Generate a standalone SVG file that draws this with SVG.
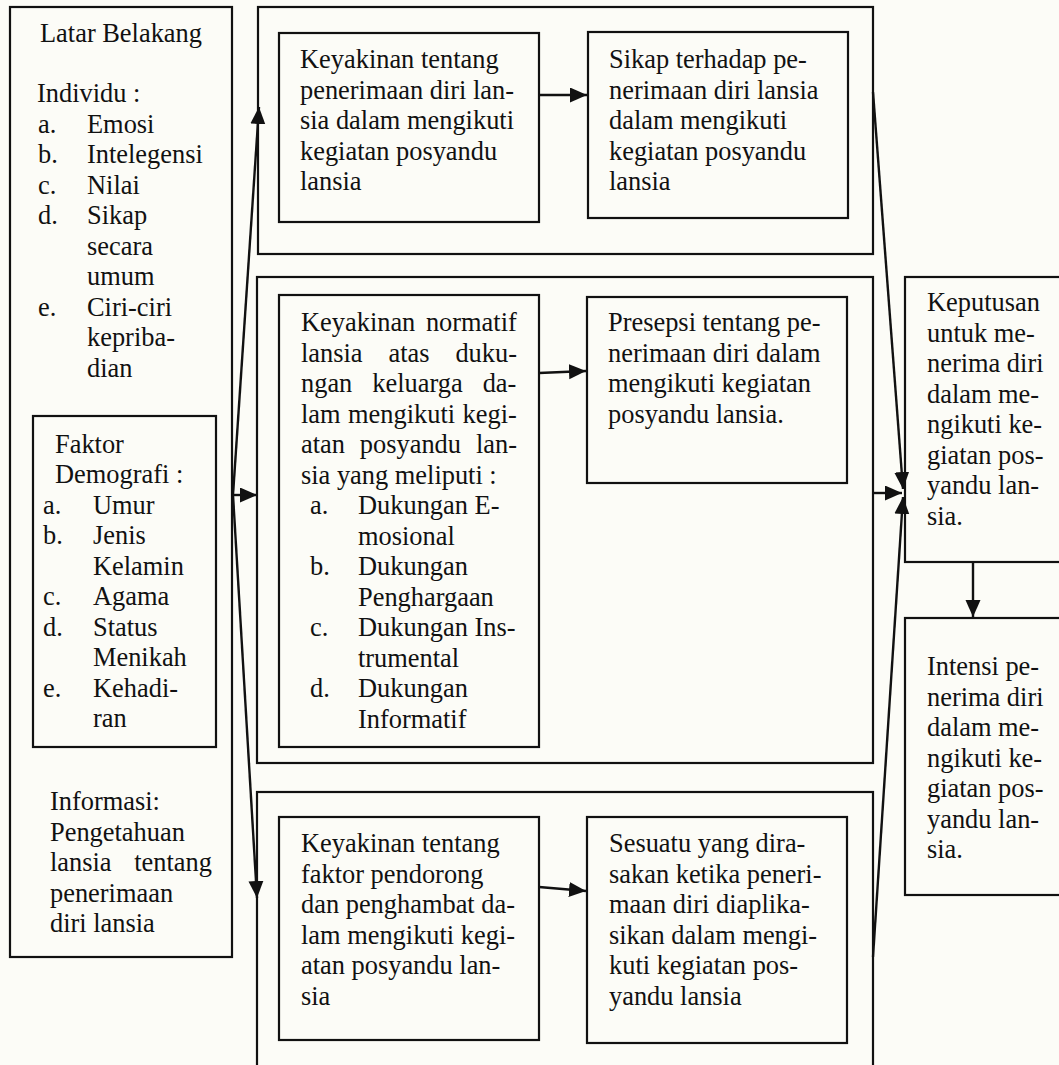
<svg xmlns="http://www.w3.org/2000/svg" width="1059" height="1065" viewBox="0 0 1059 1065">
<style>
.box{fill:none;stroke:#111;stroke-width:2.2}
.t{font-family:"Liberation Serif","Times New Roman",serif;font-size:26.4px;fill:#111}
.c{stroke:#111;stroke-width:2.4;fill:none;marker-end:url(#ah)}
</style>
<defs>
<marker id="ah" markerUnits="userSpaceOnUse" markerWidth="18" markerHeight="16" viewBox="0 0 18 16" refX="17" refY="7.5" orient="auto">
<path d="M0,0 L17,7.5 L0,15 Z" fill="#111"/>
</marker>
</defs>
<rect x="0" y="0" width="1059" height="1065" fill="#fcfcf7"/>

<g id="latar-belakang">
<rect class="box" x="10" y="7" width="222" height="950"/>
<text class="t">
<tspan x="40" y="42">Latar Belakang</tspan>
<tspan x="37" y="102">Individu :</tspan>
<tspan x="38" y="132.5">a.</tspan><tspan x="87" y="132.5">Emosi</tspan>
<tspan x="38" y="163">b.</tspan><tspan x="87" y="163">Intelegensi</tspan>
<tspan x="38" y="193.5">c.</tspan><tspan x="87" y="193.5">Nilai</tspan>
<tspan x="38" y="224">d.</tspan><tspan x="87" y="224">Sikap</tspan>
<tspan x="87" y="254.5">secara</tspan>
<tspan x="87" y="285">umum</tspan>
<tspan x="38" y="315.5">e.</tspan><tspan x="87" y="315.5">Ciri-ciri</tspan>
<tspan x="87" y="346">kepriba-</tspan>
<tspan x="87" y="376.5">dian</tspan>
</text>
<text class="t">
<tspan x="50" y="810">Informasi:</tspan>
<tspan x="50" y="840.5">Pengetahuan</tspan>
<tspan x="50" y="871" word-spacing="16">lansia tentang</tspan>
<tspan x="50" y="901.5">penerimaan</tspan>
<tspan x="50" y="932">diri lansia</tspan>
</text>
</g>

<g id="faktor-demografi">
<rect class="box" x="33" y="416" width="183" height="331"/>
<text class="t">
<tspan x="55" y="452.5">Faktor</tspan>
<tspan x="55" y="483">Demografi :</tspan>
<tspan x="43" y="513.5">a.</tspan><tspan x="93" y="513.5">Umur</tspan>
<tspan x="43" y="544">b.</tspan><tspan x="93" y="544">Jenis</tspan>
<tspan x="93" y="574.5">Kelamin</tspan>
<tspan x="43" y="605">c.</tspan><tspan x="93" y="605">Agama</tspan>
<tspan x="43" y="635.5">d.</tspan><tspan x="93" y="635.5">Status</tspan>
<tspan x="93" y="666">Menikah</tspan>
<tspan x="43" y="696.5">e.</tspan><tspan x="93" y="696.5">Kehadi-</tspan>
<tspan x="93" y="727">ran</tspan>
</text>
</g>

<g id="group-top">
<rect class="box" x="258" y="7" width="615" height="247"/>
</g>
<g id="keyakinan-penerimaan">
<rect class="box" x="279" y="33" width="260" height="189"/>
<text class="t">
<tspan x="300" y="68">Keyakinan tentang</tspan>
<tspan x="300" y="98.5">penerimaan diri lan-</tspan>
<tspan x="300" y="129">sia dalam mengikuti</tspan>
<tspan x="300" y="159.5">kegiatan posyandu</tspan>
<tspan x="300" y="190">lansia</tspan>
</text>
</g>
<g id="sikap">
<rect class="box" x="588" y="32" width="260" height="186"/>
<text class="t">
<tspan x="609" y="68">Sikap terhadap pe-</tspan>
<tspan x="609" y="98.5">nerimaan diri lansia</tspan>
<tspan x="609" y="129">dalam mengikuti</tspan>
<tspan x="609" y="159.5">kegiatan posyandu</tspan>
<tspan x="609" y="190">lansia</tspan>
</text>
</g>

<g id="group-middle">
<rect class="box" x="257" y="277" width="616" height="486"/>
</g>
<g id="keyakinan-normatif">
<rect class="box" x="279" y="295" width="260" height="452"/>
<text class="t">
<tspan x="301" y="331" word-spacing="4">Keyakinan normatif</tspan>
<tspan x="301" y="361.5" word-spacing="19.3">lansia atas duku-</tspan>
<tspan x="301" y="392" word-spacing="13.4">ngan keluarga da-</tspan>
<tspan x="301" y="422.5" word-spacing="0.9">lam mengikuti kegi-</tspan>
<tspan x="301" y="453" word-spacing="8.3">atan posyandu lan-</tspan>
<tspan x="301" y="483.5">sia yang meliputi :</tspan>
<tspan x="310" y="514">a.</tspan><tspan x="358" y="514">Dukungan E-</tspan>
<tspan x="358" y="544.5">mosional</tspan>
<tspan x="310" y="575">b.</tspan><tspan x="358" y="575">Dukungan</tspan>
<tspan x="358" y="605.5">Penghargaan</tspan>
<tspan x="310" y="636">c.</tspan><tspan x="358" y="636">Dukungan Ins-</tspan>
<tspan x="358" y="666.5">trumental</tspan>
<tspan x="310" y="697">d.</tspan><tspan x="358" y="697">Dukungan</tspan>
<tspan x="358" y="727.5">Informatif</tspan>
</text>
</g>
<g id="presepsi">
<rect class="box" x="587" y="297" width="260" height="186"/>
<text class="t">
<tspan x="608" y="331">Presepsi tentang pe-</tspan>
<tspan x="608" y="361.5">nerimaan diri dalam</tspan>
<tspan x="608" y="392">mengikuti kegiatan</tspan>
<tspan x="608" y="422.5">posyandu lansia.</tspan>
</text>
</g>

<g id="group-bottom">
<rect class="box" x="257" y="792" width="616" height="290"/>
</g>
<g id="keyakinan-faktor">
<rect class="box" x="279" y="817" width="260" height="223"/>
<text class="t">
<tspan x="301" y="852">Keyakinan tentang</tspan>
<tspan x="301" y="882.5">faktor pendorong</tspan>
<tspan x="301" y="913">dan penghambat da-</tspan>
<tspan x="301" y="943.5">lam mengikuti kegi-</tspan>
<tspan x="301" y="974">atan posyandu lan-</tspan>
<tspan x="301" y="1004.5">sia</tspan>
</text>
</g>
<g id="sesuatu">
<rect class="box" x="587" y="817" width="260" height="226"/>
<text class="t">
<tspan x="609" y="852">Sesuatu yang dira-</tspan>
<tspan x="609" y="882.5">sakan ketika peneri-</tspan>
<tspan x="609" y="913">maan diri diaplika-</tspan>
<tspan x="609" y="943.5">sikan dalam mengi-</tspan>
<tspan x="609" y="974">kuti kegiatan pos-</tspan>
<tspan x="609" y="1004.5">yandu lansia</tspan>
</text>
</g>

<g id="keputusan">
<rect class="box" x="905" y="277" width="170" height="285"/>
<text class="t">
<tspan x="927" y="311">Keputusan</tspan>
<tspan x="927" y="341.5">untuk me-</tspan>
<tspan x="927" y="372">nerima diri</tspan>
<tspan x="927" y="402.5">dalam me-</tspan>
<tspan x="927" y="433">ngikuti ke-</tspan>
<tspan x="927" y="463.5">giatan pos-</tspan>
<tspan x="927" y="494">yandu lan-</tspan>
<tspan x="927" y="524.5">sia.</tspan>
</text>
</g>
<g id="intensi">
<rect class="box" x="905" y="618" width="170" height="277"/>
<text class="t">
<tspan x="927" y="675">Intensi pe-</tspan>
<tspan x="927" y="705.5">nerima diri</tspan>
<tspan x="927" y="736">dalam me-</tspan>
<tspan x="927" y="766.5">ngikuti ke-</tspan>
<tspan x="927" y="797">giatan pos-</tspan>
<tspan x="927" y="827.5">yandu lan-</tspan>
<tspan x="927" y="858">sia.</tspan>
</text>
</g>

<g id="connectors">
<line class="c" x1="233" y1="495" x2="259" y2="107"/>
<line class="c" x1="233" y1="495" x2="257" y2="495"/>
<line class="c" x1="233" y1="495" x2="257" y2="898"/>
<line class="c" x1="539" y1="95" x2="587" y2="95"/>
<line class="c" x1="539" y1="373" x2="586" y2="371"/>
<line class="c" x1="539" y1="887" x2="586" y2="891"/>
<line class="c" x1="873" y1="92" x2="903" y2="489"/>
<line class="c" x1="873" y1="493" x2="902" y2="493"/>
<line class="c" x1="873" y1="957" x2="903" y2="497"/>
<line class="c" x1="973" y1="562" x2="973" y2="617"/>
</g>
</svg>
